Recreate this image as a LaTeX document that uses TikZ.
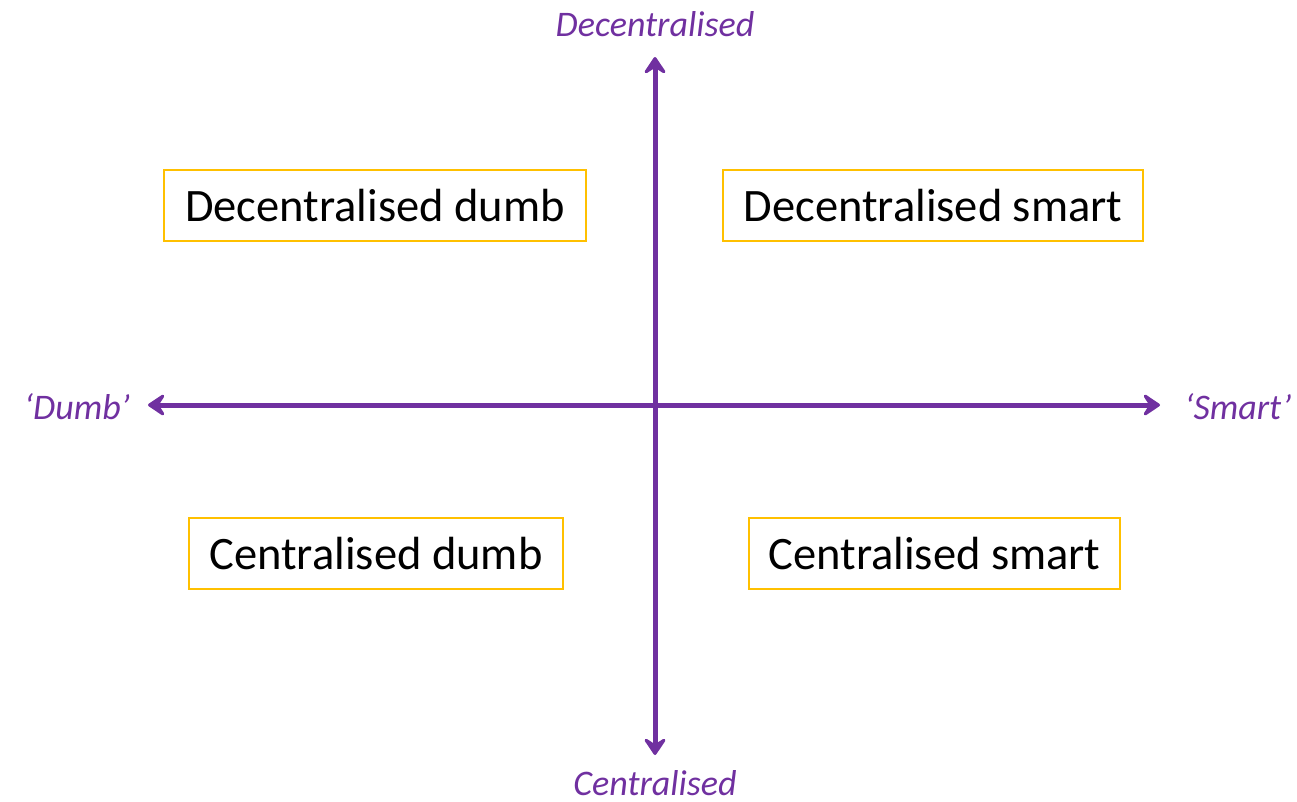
\documentclass[tikz,border=0pt]{standalone}
\usepackage{fontspec}
\setmainfont{Carlito}
\usetikzlibrary{arrows.meta}
\definecolor{axpurple}{HTML}{7030A0}
\definecolor{boxgold}{HTML}{FFC000}
\begin{document}
\begin{tikzpicture}[x=1pt,y=-1pt,
  axis/.style={draw=axpurple,line width=5pt,{Stealth[length=21pt,width=28pt,inset=9pt,round]}-{Stealth[length=21pt,width=28pt,inset=9pt,round]}},
  axlabel/.style={text=axpurple,font=\fontsize{36}{40}\selectfont\itshape,inner sep=0pt},
  quad/.style={draw=boxgold,line width=2pt,font=\fontsize{46.5}{50}\selectfont,minimum height=71pt,inner sep=0pt,text=black}]
\useasboundingbox (0,0) rectangle (1297,801);
\coordinate (top) at (655,57);
\coordinate (bot) at (655,755);
\coordinate (lft) at (148,405);
\coordinate (rgt) at (1160,405);
\draw[axis] (bot) -- (top);
\draw[axis] (lft) -- (rgt);
\node[axlabel] (ldec) at (655,24) {Decentralised};
\node[axlabel,anchor=base] (lcen) at (655,795) {Centralised};
\node[axlabel] (ldumb) at (77,407) {‘Dumb’};
\node[axlabel] (lsmart) at (1238,407) {‘Smart’};
\node[quad,minimum width=422pt] (dd) at (375,205.5) {Decentralised dumb};
\node[quad,minimum width=420pt] (ds) at (933,205.5) {Decentralised smart};
\node[quad,minimum width=374pt] (cd) at (376,553.5) {Centralised dumb};
\node[quad,minimum width=371pt] (cs) at (934.5,553.5) {Centralised smart};
\end{tikzpicture}
\end{document}
